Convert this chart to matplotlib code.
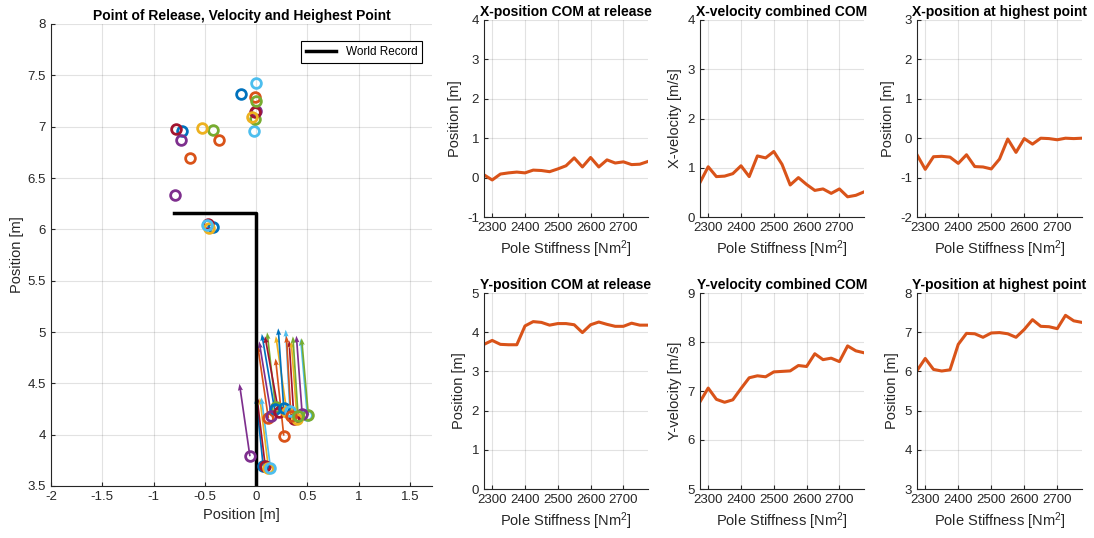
import matplotlib
matplotlib.use("Agg")
import matplotlib.pyplot as plt
from matplotlib.ticker import FuncFormatter, MultipleLocator

plt.rcParams['font.family'] = ['Liberation Sans', 'DejaVu Sans']
plt.rcParams['mathtext.default'] = 'regular'

# ---------------- data ----------------
stiffness = [2275, 2300, 2325, 2350, 2375, 2400, 2425, 2450, 2475, 2500, 2525,
             2550, 2575, 2600, 2625, 2650, 2675, 2700, 2725, 2750, 2775]

x_release = [0.07, -0.06, 0.09, 0.12, 0.14, 0.12, 0.19, 0.18, 0.15, 0.22, 0.30,
             0.50, 0.27, 0.51, 0.27, 0.45, 0.37, 0.40, 0.33, 0.34, 0.41]
y_release = [3.69, 3.79, 3.69, 3.68, 3.68, 4.16, 4.27, 4.25, 4.18, 4.22, 4.22,
             4.19, 3.99, 4.19, 4.26, 4.20, 4.15, 4.15, 4.23, 4.18, 4.18]
x_velocity = [0.70, 1.02, 0.82, 0.83, 0.88, 1.04, 0.82, 1.24, 1.20, 1.33, 1.07,
              0.65, 0.80, 0.66, 0.54, 0.57, 0.48, 0.57, 0.41, 0.44, 0.51]
y_velocity = [6.78, 7.06, 6.83, 6.77, 6.82, 7.05, 7.27, 7.31, 7.29, 7.39, 7.40,
              7.41, 7.52, 7.50, 7.76, 7.64, 7.67, 7.60, 7.92, 7.82, 7.78]
x_highest = [-0.42, -0.79, -0.47, -0.46, -0.48, -0.64, -0.42, -0.72, -0.73, -0.78, -0.53,
             -0.02, -0.36, -0.01, -0.15, 0.00, -0.01, -0.04, 0.00, -0.01, 0.00]
y_highest = [6.02, 6.33, 6.05, 6.01, 6.04, 6.69, 6.97, 6.96, 6.87, 6.98, 6.99,
             6.96, 6.87, 7.07, 7.32, 7.15, 7.14, 7.09, 7.43, 7.29, 7.25]

world_record_x = [-0.8, 0.0, 0.0]
world_record_y = [6.16, 6.16, 3.5]

velocity_scale = 0.1

colors = [(0.000, 0.447, 0.741), (0.850, 0.325, 0.098), (0.929, 0.694, 0.125),
          (0.494, 0.184, 0.556), (0.466, 0.674, 0.188), (0.301, 0.745, 0.933),
          (0.635, 0.078, 0.184)]
line_color = (0.850, 0.325, 0.098)
axis_color = (0.15, 0.15, 0.15)

panels = [
    ("X-position COM at release", "Position [m]", x_release, (-1, 4)),
    ("X-velocity combined COM", "X-velocity [m/s]", x_velocity, (0, 4)),
    ("X-position at highest point", "Position [m]", x_highest, (-2, 3)),
    ("Y-position COM at release", "Position [m]", y_release, (0, 5)),
    ("Y-velocity combined COM", "Y-velocity [m/s]", y_velocity, (5, 9)),
    ("Y-position at highest point", "Position [m]", y_highest, (3, 8)),
]

W, H = 1094, 538
fig = plt.figure(figsize=(W / 100, H / 100), dpi=100)
gfmt = FuncFormatter(lambda v, p: ('%g' % round(v, 6)))


def style(ax):
    for s in ('top', 'right'):
        ax.spines[s].set_visible(False)
    for s in ('left', 'bottom'):
        ax.spines[s].set_color(axis_color)
        ax.spines[s].set_linewidth(0.8)
    ax.tick_params(direction='in', length=3, width=0.8, colors=axis_color,
                   labelsize=9.5, labelcolor=axis_color)
    ax.grid(True, color=(0.15, 0.15, 0.15), alpha=0.13, linewidth=0.8)
    ax.set_axisbelow(True)


def box(l, r, t, b):
    return [l / W, 1 - b / H, (r - l) / W, (b - t) / H]


# ---------------- left panel ----------------
ax = fig.add_axes(box(51, 432, 24, 486))
style(ax)
wr, = ax.plot(world_record_x, world_record_y, color='k', linewidth=2.5, label='World Record')
for i in range(len(stiffness)):
    c = colors[(3 * i) % 7]
    ax.plot(x_release[i], y_release[i], 'o', mfc='none', mec=c, mew=2, ms=7)
    ax.quiver(x_release[i], y_release[i],
              -x_velocity[i] * velocity_scale, y_velocity[i] * velocity_scale,
              angles='xy', scale_units='xy', scale=1, color=c,
              width=0.0045, headwidth=3.0, headlength=4.0, headaxislength=3.6)
    ax.plot(x_highest[i], y_highest[i], 'o', mfc='none', mec=c, mew=2, ms=7)
ax.set_xlim(-2, 1.716)
ax.set_ylim(3.5, 8)
ax.xaxis.set_major_locator(MultipleLocator(0.5))
ax.yaxis.set_major_locator(MultipleLocator(0.5))
ax.xaxis.set_major_formatter(gfmt)
ax.yaxis.set_major_formatter(gfmt)
ax.set_xlabel("Position [m]", fontsize=10.5, color=axis_color, labelpad=4)
ax.set_ylabel("Position [m]", fontsize=10.5, color=axis_color, labelpad=3)
ax.set_title("Point of Release, Velocity and Heighest Point", fontsize=10,
             fontweight='bold', pad=3)
leg = ax.legend(handles=[wr], loc='upper right', fontsize=8.5, fancybox=False,
                edgecolor='k', framealpha=1, borderpad=0.4, handlelength=2.6,
                bbox_to_anchor=(0.99, 0.975))
leg.get_frame().set_linewidth(0.8)

# ---------------- small panels ----------------
cols = [(484, 648), (700, 864), (917, 1082)]
rows = [(20, 217), (293, 489)]
for k, (title, ylabel, vals, ylim) in enumerate(panels):
    l, r = cols[k % 3]
    t, b = rows[k // 3]
    a = fig.add_axes(box(l, r, t, b))
    style(a)
    a.plot(stiffness, vals, color=line_color, linewidth=2.2)
    a.set_xlim(2275, 2775)
    a.set_ylim(*ylim)
    a.set_xticks([2300, 2400, 2500, 2600, 2700])
    a.yaxis.set_major_locator(MultipleLocator(1))
    a.yaxis.set_major_formatter(gfmt)
    a.set_title(title, fontsize=10, fontweight='bold', pad=3)
    a.set_ylabel(ylabel, fontsize=10.5, color=axis_color, labelpad=4)
    a.set_xlabel("Pole Stiffness [Nm$^{2}$]", fontsize=10.5, color=axis_color, labelpad=3)

fig.savefig("out.png", dpi=100)
